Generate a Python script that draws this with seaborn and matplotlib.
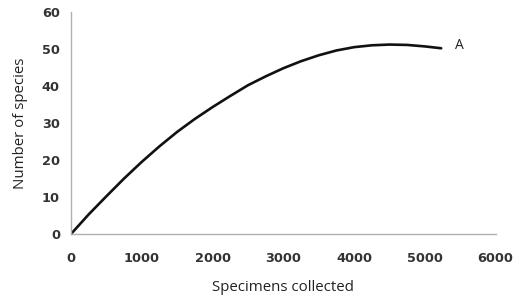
import pandas as pd
import matplotlib.pyplot as plt
import seaborn as sns

# species accumulation curve
specimens = [0, 250, 500, 750, 1000, 1250, 1500, 1750, 2000, 2250, 2500, 2750, 3000,
             3250, 3500, 3750, 4000, 4250, 4500, 4750, 5000, 5230]
species = [0, 5.3, 10.2, 15.0, 19.5, 23.7, 27.6, 31.1, 34.3, 37.3, 40.2, 42.6, 44.8,
           46.7, 48.3, 49.6, 50.5, 51.0, 51.2, 51.1, 50.7, 50.2]
label_x = 5420
label_y = 51.0

df = pd.DataFrame({'specimens': specimens, 'species': species})

sns.set_style('white')
plt.rcParams['font.family'] = ['Open Sans', 'DejaVu Sans']

fig = plt.figure(figsize=(5.16, 3.0), dpi=100)
ax = fig.add_axes([0.1376, 0.22, 0.823, 0.74])

sns.lineplot(data=df, x='specimens', y='species', color='#111111', linewidth=1.9, ax=ax)
ax.text(label_x, label_y, 'A', fontsize=10, color='#222222', va='center', ha='left')

ax.set_xlim(0, 6000)
ax.set_ylim(0, 60)
ax.set_xticks(range(0, 6001, 1000))
ax.set_yticks(range(0, 61, 10))

for side in ['top', 'right']:
    ax.spines[side].set_visible(False)
for side in ['left', 'bottom']:
    ax.spines[side].set_color('#b0b0b0')
    ax.spines[side].set_linewidth(1.0)

ax.tick_params(axis='both', which='major', length=5, width=1, color='#b0b0b0',
               labelsize=9.3, labelcolor='#333333', direction='out')
ax.tick_params(axis='x', pad=8)
ax.tick_params(axis='y', pad=3)
for lab in ax.get_xticklabels() + ax.get_yticklabels():
    lab.set_fontfamily('DejaVu Sans')
    lab.set_fontweight('bold')

ax.set_xlabel('Specimens collected', fontsize=10.8, color='#222222', labelpad=11)
ax.set_ylabel('Number of species', fontsize=10.8, color='#222222', labelpad=10)

plt.savefig('out.png', dpi=100)
plt.close()
